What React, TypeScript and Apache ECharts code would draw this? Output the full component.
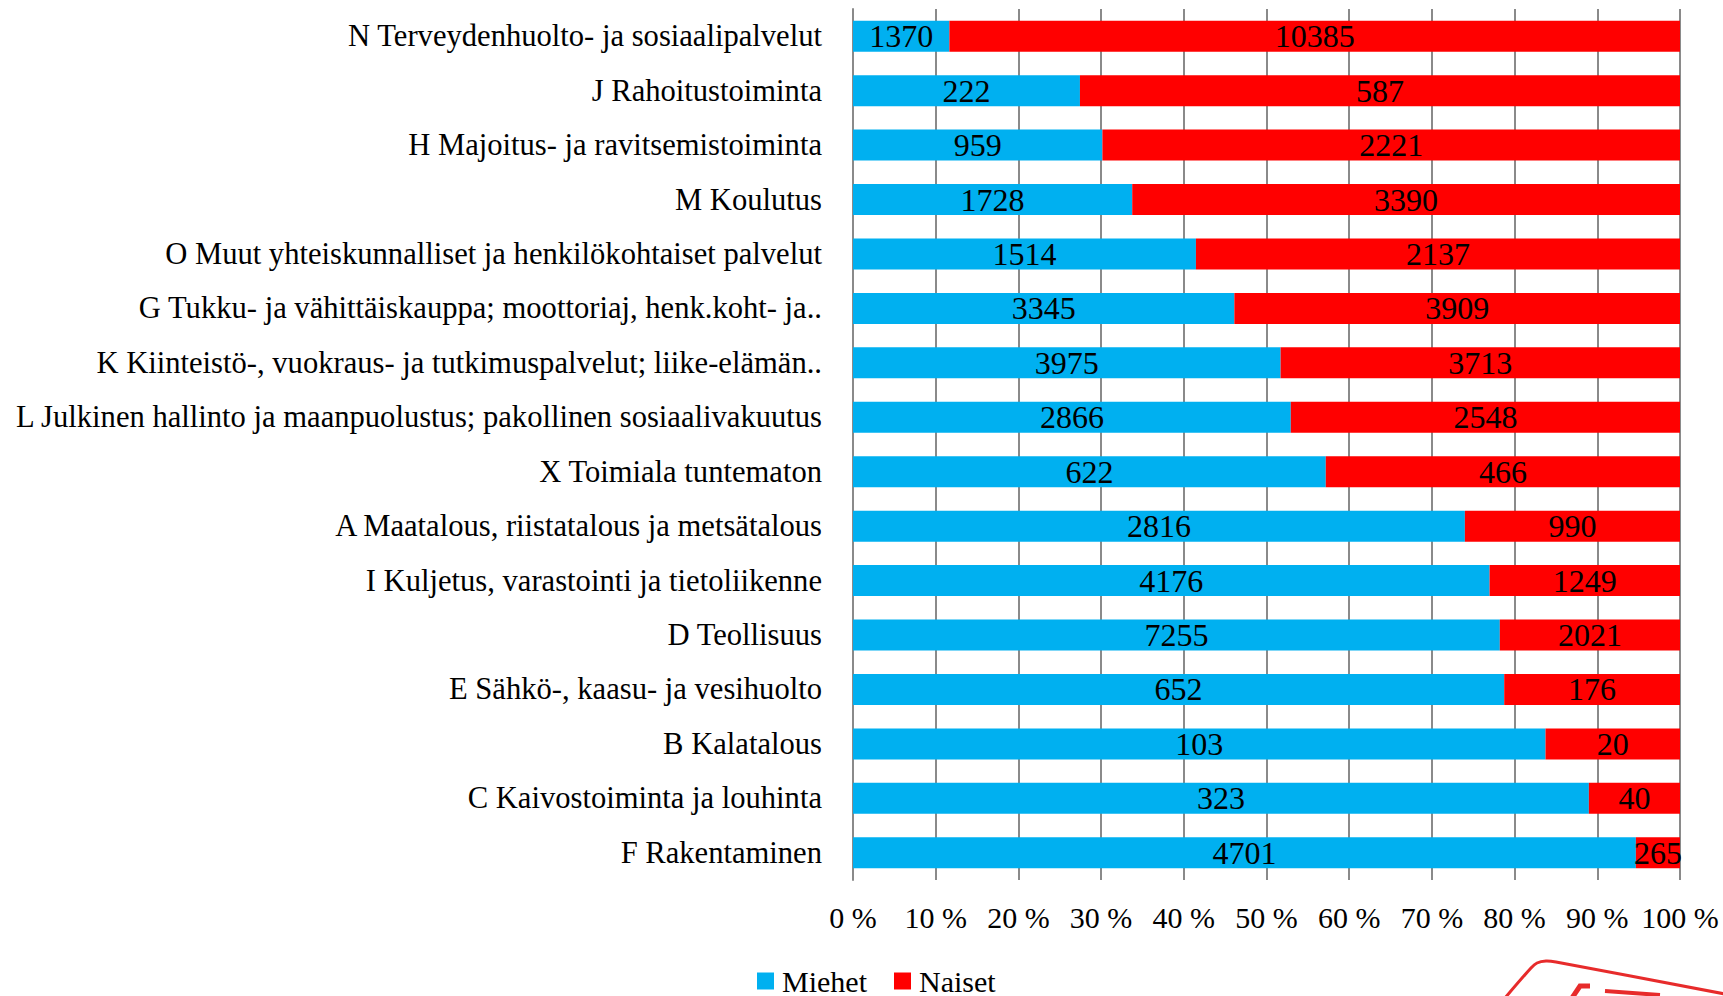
import React, { useEffect, useRef } from "react";
import * as echarts from "echarts";

const categories = [
  "N Terveydenhuolto- ja sosiaalipalvelut",
  "J Rahoitustoiminta",
  "H Majoitus- ja ravitsemistoiminta",
  "M Koulutus",
  "O Muut yhteiskunnalliset ja henkilökohtaiset palvelut",
  "G Tukku- ja vähittäiskauppa; moottoriaj, henk.koht- ja..",
  "K Kiinteistö-, vuokraus- ja tutkimuspalvelut; liike-elämän..",
  "L Julkinen hallinto ja maanpuolustus; pakollinen sosiaalivakuutus",
  "X Toimiala tuntematon",
  "A Maatalous, riistatalous ja metsätalous",
  "I Kuljetus, varastointi ja tietoliikenne",
  "D Teollisuus",
  "E Sähkö-, kaasu- ja vesihuolto",
  "B Kalatalous",
  "C Kaivostoiminta ja louhinta",
  "F Rakentaminen",
];

const miehet = [1370, 222, 959, 1728, 1514, 3345, 3975, 2866, 622, 2816, 4176, 7255, 652, 103, 323, 4701];
const naiset = [10385, 587, 2221, 3390, 2137, 3909, 3713, 2548, 466, 990, 1249, 2021, 176, 20, 40, 265];

const xTicks = [0, 10, 20, 30, 40, 50, 60, 70, 80, 90, 100];

const FONT = "'Liberation Serif', 'DejaVu Serif', serif";

export default function App() {
  const ref = useRef<HTMLDivElement>(null);
  useEffect(() => {
    document.body.style.margin = "0";
    const chart = echarts.init(ref.current!, null, { renderer: "svg" });
    const pct = (arr: number[]) =>
      arr.map((v, i) => (v / (miehet[i] + naiset[i])) * 100);
    const mkSeries = (name: string, raw: number[], color: string) => ({
      name,
      type: "bar",
      stack: "total",
      data: pct(raw),
      barWidth: 31,
      itemStyle: { color },
      label: {
        show: true,
        position: "inside",
        color: "#000",
        fontSize: 32,
        fontFamily: FONT,
        formatter: (p: any) => String(raw[p.dataIndex]),
      },
    });
    chart.setOption({
      animation: false,
      textStyle: { fontFamily: FONT },
      grid: { left: 853, right: 43, top: 9, bottom: 116, containLabel: false },
      legend: {
        data: ["Miehet", "Naiset"],
        left: 752,
        top: 961,
        icon: "rect",
        itemWidth: 17,
        itemHeight: 17,
        itemGap: 27,
        textStyle: { fontSize: 30, color: "#000", fontFamily: FONT, padding: [0, 0, 0, 3] },
      },
      xAxis: {
        type: "value",
        min: xTicks[0],
        max: xTicks[xTicks.length - 1],
        interval: 10,
        axisLine: { show: false },
        axisTick: { show: false },
        splitLine: { show: true, lineStyle: { color: "#8a8a8a", width: 2 } },
        axisLabel: {
          formatter: "{value} %",
          fontSize: 30,
          color: "#000",
          fontFamily: FONT,
          margin: 22,
        },
      },
      yAxis: {
        type: "category",
        data: categories,
        inverse: true,
        axisLine: { show: true, lineStyle: { color: "#8a8a8a", width: 2 } },
        axisTick: { show: false },
        axisLabel: {
          fontSize: 30.6,
          color: "#000",
          fontFamily: FONT,
          margin: 31,
        },
      },
      series: [
        mkSeries("Miehet", miehet, "#00B0F0"),
        mkSeries("Naiset", naiset, "#FF0000"),
      ],
      graphic: [
        {
          type: "polyline",
          silent: true,
          shape: {
            points: [
              [1505, 998],
              [1531, 968],
              [1537, 963],
              [1546, 961],
              [1556, 962],
              [1725, 994],
            ],
            smooth: 0.3,
          },
          style: { stroke: "#e41414", lineWidth: 3, fill: null, opacity: 0.9 },
        },
        {
          type: "polyline",
          silent: true,
          shape: { points: [[1572, 998], [1580, 986], [1590, 986]] },
          style: { stroke: "#e41414", lineWidth: 5, fill: null, opacity: 0.9 },
        },
        {
          type: "line",
          silent: true,
          shape: { x1: 1605, y1: 991, x2: 1660, y2: 995 },
          style: { stroke: "#e41414", lineWidth: 4, opacity: 0.9 },
        },
      ],
    });
    return () => chart.dispose();
  }, []);
  return <div ref={ref} style={{ width: 1723, height: 996 }} />;
}
